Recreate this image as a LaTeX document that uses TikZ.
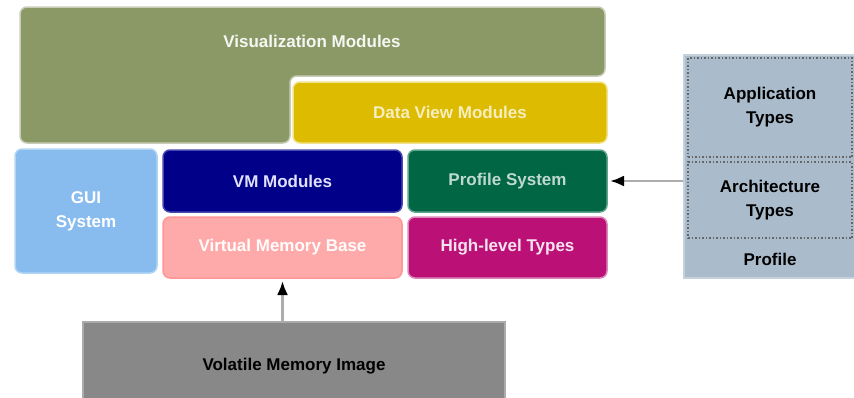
\documentclass[tikz,border=0pt]{standalone}
\usepackage{fontspec}
\setmainfont{Liberation Sans}
\usepackage{xcolor}
\usetikzlibrary{arrows.meta}

\definecolor{visfill}{HTML}{8A9966}
\definecolor{visline}{HTML}{C8CCB8}
\definecolor{dvfill}{HTML}{DDBB00}
\definecolor{dvline}{HTML}{F2E28A}
\definecolor{guifill}{HTML}{88BBEE}
\definecolor{guiline}{HTML}{B0D6F4}
\definecolor{vmfill}{HTML}{000088}
\definecolor{vmline}{HTML}{4848B0}
\definecolor{psfill}{HTML}{006644}
\definecolor{psline}{HTML}{5FA48E}
\definecolor{vbfill}{HTML}{FFAAAA}
\definecolor{vbline}{HTML}{FF9595}
\definecolor{hlfill}{HTML}{BB1177}
\definecolor{hlline}{HTML}{DD88BB}
\definecolor{imgfill}{HTML}{888888}
\definecolor{imgline}{HTML}{ABABAB}
\definecolor{proffill}{HTML}{AABBCC}
\definecolor{profline}{HTML}{C4D2DE}

\begin{document}
\begin{tikzpicture}[x=1pt,y=-1pt,font=\fontsize{17}{24}\selectfont\bfseries]
	\tikzstyle{module} = [rectangle, rounded corners=7pt, line width=1.5pt, align=center, inner sep=0pt, outer sep=0pt, text=white]
	\tikzstyle{typebox} = [rectangle, draw=black!60, dotted, line width=1.5pt, align=center, inner sep=0pt, outer sep=0pt, text=black]
	\tikzstyle{link} = [draw=black!32, line width=2.5pt, shorten >=3pt, -{Latex[length=14pt,width=11pt,black]}]
	\useasboundingbox (0,0) rectangle (854,397);
	% visualization layer (L-shaped)
	\filldraw [fill=visfill, draw=visline, line width=1.5pt, rounded corners=7pt]
			(20,7) -- (605,7) -- (605,76) -- (290,76) -- (290,143) -- (20,143) -- cycle;
		\node[text=white!92!visfill] (vis) at (312,41) {Visualization Modules};
		\node[module, fill=dvfill, draw=dvline, text=white!75!dvfill, minimum width=314, minimum height=61] (dv) at (450,112.5) {Data View Modules};
	% core blocks
		\node[module, fill=guifill, draw=guiline, minimum width=142, minimum height=124] (gui) at (86,211) {GUI\\System};
		\node[module, fill=vmfill, draw=vmline, text=white!88!blue, minimum width=239, minimum height=62] (vm) at (282.5,181) {VM Modules};
		\node[module, fill=psfill, draw=psline, text=white!75!psfill, minimum width=199, minimum height=62] (ps) at (507.5,181) {Profile System};
		\node[module, fill=vbfill, draw=vbline, text=white!96!vbfill, minimum width=239, minimum height=61] (vb) at (282.5,247.5) {Virtual Memory Base};
		\node[module, fill=hlfill, draw=hlline, text=white!88!hlfill, minimum width=199, minimum height=61] (hl) at (507.5,247.5) {High-level Types};
	% memory image
		\node[rectangle, fill=imgfill, draw=imgline, line width=1.5pt, minimum width=422, minimum height=90, text=black] (img) at (294,367) {};
		\node[text=black] (imglabel) at (294,366) {Volatile Memory Image};
	% profile
		\node[rectangle, fill=proffill, draw=profline, line width=1.5pt, minimum width=172, minimum height=223] (prof) at (770,166.5) {};
		\node[typebox, minimum width=164, minimum height=99] (app) at (770,107.5) {Application\\Types};
		\node[typebox, minimum width=164, minimum height=76] (arch) at (770,200) {Architecture\\Types};
		\node[text=black] (proflabel) at (770,259) {Profile};
	\draw[link] (img.north -| vb.south) -- (vb.south);
	\draw[link] (prof.west |- ps.east) -- (ps.east);
\end{tikzpicture}
\end{document}
